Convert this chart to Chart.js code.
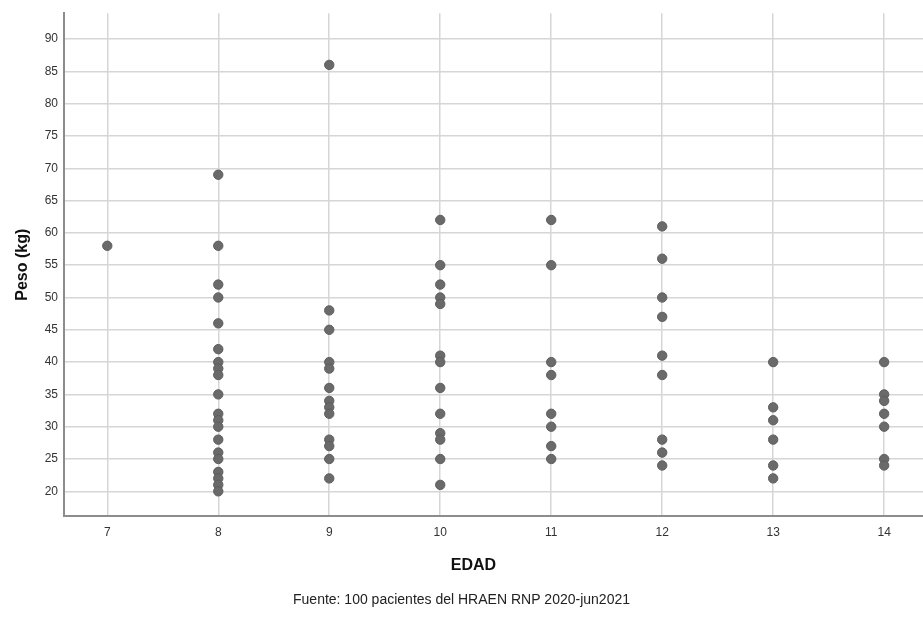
<!DOCTYPE html>
<html>
<head>
<meta charset="utf-8">
<script src="https://cdn.jsdelivr.net/npm/chart.js@4.4.0/dist/chart.umd.min.js"></script>
<style>
  html, body { margin: 0; padding: 0; background: #fff; }
  #wrap { width: 923px; height: 618px; }
</style>
</head>
<body>
<div id="wrap"><canvas id="grafico"></canvas></div>
<script>
// edades (eje X) y pesos leidos por columna
const edades = [7, 8, 9, 10, 11, 12, 13, 14];
const peso7 = [58];
const peso8 = [69, 58, 52, 50, 46, 42, 40, 39, 38, 35, 32, 31, 30, 28, 26, 25, 23, 22, 21, 20];
const peso9 = [86, 48, 45, 40, 39, 36, 34, 33, 32, 28, 27, 25, 22];
const peso10 = [62, 55, 52, 50, 49, 41, 40, 36, 32, 29, 28, 25, 21];
const peso11 = [62, 55, 40, 38, 32, 30, 27, 25];
const peso12 = [61, 56, 50, 47, 41, 38, 28, 26, 24];
const peso13 = [40, 33, 31, 28, 24, 22];
const peso14 = [40, 35, 34, 32, 30, 25, 24];
const yTicks = [20, 25, 30, 35, 40, 45, 50, 55, 60, 65, 70, 75, 80, 85, 90];
const fuente = "Fuente: 100 pacientes del HRAEN RNP 2020-jun2021";

const grupos = [peso7, peso8, peso9, peso10, peso11, peso12, peso13, peso14];
const puntos = [];
grupos.forEach((g, i) => {
  g.forEach(p => puntos.push({ x: edades[i], y: p }));
});

const fam = "'Liberation Sans', Arial, sans-serif";
const gridColor = "#d6d6d6";

new Chart(document.getElementById("grafico"), {
  type: "scatter",
  data: {
    datasets: [{
      data: puntos,
      pointRadius: 4.7,
      pointHoverRadius: 4.7,
      backgroundColor: "#6a6a6a",
      borderColor: "#5e5e5e",
      borderWidth: 1
    }]
  },
  options: {
    responsive: true,
    maintainAspectRatio: false,
    animation: false,
    layout: { autoPadding: false, padding: { top: 10, right: 0, left: 0, bottom: 0 } },
    plugins: {
      legend: { display: false },
      tooltip: { enabled: false },
      title: {
        display: true,
        position: "bottom",
        text: fuente,
        color: "#222",
        font: { family: fam, size: 14, weight: "normal" },
        padding: { top: 4, bottom: 9 }
      }
    },
    scales: {
      x: {
        type: "linear",
        min: 6.61,
        max: 14.35,
        afterBuildTicks: s => { s.ticks = edades.map(v => ({ value: v })); },
        afterFit: s => { s.height = 72; },
        grid: { color: gridColor, lineWidth: 1.5, drawTicks: false },
        border: { color: "#8c8c8c", width: 2 },
        ticks: { color: "#333", padding: 9, font: { family: fam, size: 12 } },
        title: {
          display: true,
          // espacios al final para correr el titulo un poco a la izquierda como en el original
          text: "EDAD\u00a0\u00a0\u00a0\u00a0\u00a0\u00a0\u00a0\u00a0\u00a0",
          color: "#111",
          font: { family: fam, size: 16, weight: "bold" },
          padding: { top: 0, bottom: 13 }
        }
      },
      y: {
        min: 16.15,
        max: 94,
        afterBuildTicks: s => { s.ticks = yTicks.map(v => ({ value: v })); },
        afterFit: s => { s.width = 64; },
        grid: { color: gridColor, lineWidth: 1.5, drawTicks: false },
        border: { color: "#8c8c8c", width: 2 },
        ticks: { color: "#333", padding: 6, font: { family: fam, size: 12 } },
        title: {
          display: true,
          text: "Peso (kg)",
          color: "#111",
          font: { family: fam, size: 16, weight: "bold" },
          padding: { top: 13, bottom: 0 }
        }
      }
    }
  }
});
</script>
</body>
</html>
